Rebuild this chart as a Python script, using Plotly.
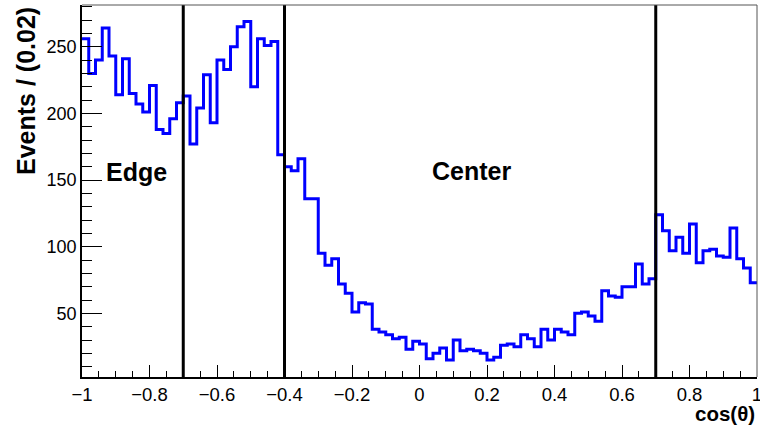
import plotly.graph_objects as go

# ---- data ----
bin_lo = -1.0
bin_width = 0.02
counts = [256, 230, 240, 264, 243, 214, 241, 215, 207, 201,
          221, 188, 185, 196, 208, 213, 177, 204, 229, 193,
          240, 233, 250, 265, 269, 220, 256, 251, 254, 169,
          160, 157, 166, 136, 136, 95, 86, 91, 72, 65,
          51, 58, 57, 38, 36, 34, 31, 32, 23, 29,
          27, 16, 20, 24, 15, 30, 22, 23, 22, 20,
          15, 17, 26, 27, 25, 34, 31, 25, 38, 30,
          38, 36, 34, 50, 51, 48, 44, 67, 63, 62,
          70, 70, 87, 72, 76, 124, 112, 97, 107, 95,
          117, 88, 97, 98, 93, 92, 114, 91, 84, 73]
boundaries = [-0.7, -0.4, 0.7]
region_labels = ["Edge", "Center"]
region_label_x = [-0.838, 0.155]
region_label_y = [156, 157]
x_tickvals = [-1, -0.8, -0.6, -0.4, -0.2, 0, 0.2, 0.4, 0.6, 0.8, 1]
x_ticktext = ["\u22121", "\u22120.8", "\u22120.6", "\u22120.4", "\u22120.2", "0",
              "0.2", "0.4", "0.6", "0.8", "1"]
y_tickvals = [50, 100, 150, 200, 250]
y_ticktext = ["50", "100", "150", "200", "250"]
x_title = "cos(\u03b8)"
y_title = "Events / (0.02)"

edges = [bin_lo + bin_width * i for i in range(len(counts) + 1)]
xs = edges
ys = counts + [counts[-1]]

FONT = "Liberation Sans, Arial, Helvetica, sans-serif"

fig = go.Figure()
fig.add_trace(go.Scatter(
    x=xs, y=ys, mode="lines", line=dict(shape="hv", color="#0000ff", width=3),
    hoverinfo="skip", showlegend=False))

for b in boundaries:
    fig.add_shape(type="line", xref="x", yref="y domain", x0=b, x1=b, y0=0, y1=1,
                  line=dict(color="black", width=3))

# frame top/right
fig.add_shape(type="line", xref="paper", yref="paper", x0=0, x1=1, y0=1, y1=1,
              line=dict(color="#555555", width=1))
fig.add_shape(type="line", xref="paper", yref="paper", x0=1, x1=1, y0=0, y1=1,
              line=dict(color="#555555", width=1))

for t, x, y in zip(region_labels, region_label_x, region_label_y):
    fig.add_annotation(x=x, y=y, xref="x", yref="y", text="<b>%s</b>" % t,
                       showarrow=False, font=dict(family=FONT, size=25, color="black"),
                       xanchor="center", yanchor="middle")

fig.add_annotation(x=1, y=-0.097, xref="paper", yref="paper", text="<b>%s</b>" % x_title,
                   showarrow=False, font=dict(family=FONT, size=20.5, color="black"),
                   xanchor="right", yanchor="middle")
fig.add_annotation(x=-0.083, y=1.0, xref="paper", yref="paper", text="<b>%s</b>" % y_title,
                   showarrow=False, textangle=-90, font=dict(family=FONT, size=25, color="black"),
                   xanchor="center", yanchor="top")

fig.update_layout(
    width=760, height=425,
    margin=dict(l=82, r=3, t=5, b=48, autoexpand=False),
    paper_bgcolor="white", plot_bgcolor="white",
    font=dict(family=FONT, size=18.5, color="black"),
    xaxis=dict(range=[-1, 1], tickvals=x_tickvals, ticktext=x_ticktext,
               ticks="inside", ticklen=12, tickcolor="black", tickwidth=1,
               showline=True, linecolor="black", linewidth=1.5, showgrid=False,
               zeroline=False, tickfont=dict(size=18.5), ticklabeloverflow="allow",
               automargin=False,
               minor=dict(dtick=0.05, tick0=0, ticks="inside", ticklen=6,
                          tickcolor="black", showgrid=False)),
    yaxis=dict(range=[2.25, 281.3], tickvals=y_tickvals, ticktext=y_ticktext,
               ticks="inside", ticklen=20, tickcolor="black", tickwidth=1,
               showline=True, linecolor="black", linewidth=1.5, showgrid=False,
               zeroline=False, tickfont=dict(size=18), ticklabeloverflow="allow",
               automargin=False,
               minor=dict(dtick=10, tick0=0, ticks="inside", ticklen=10,
                          tickcolor="black", showgrid=False)),
)

fig.write_html("out.html")
